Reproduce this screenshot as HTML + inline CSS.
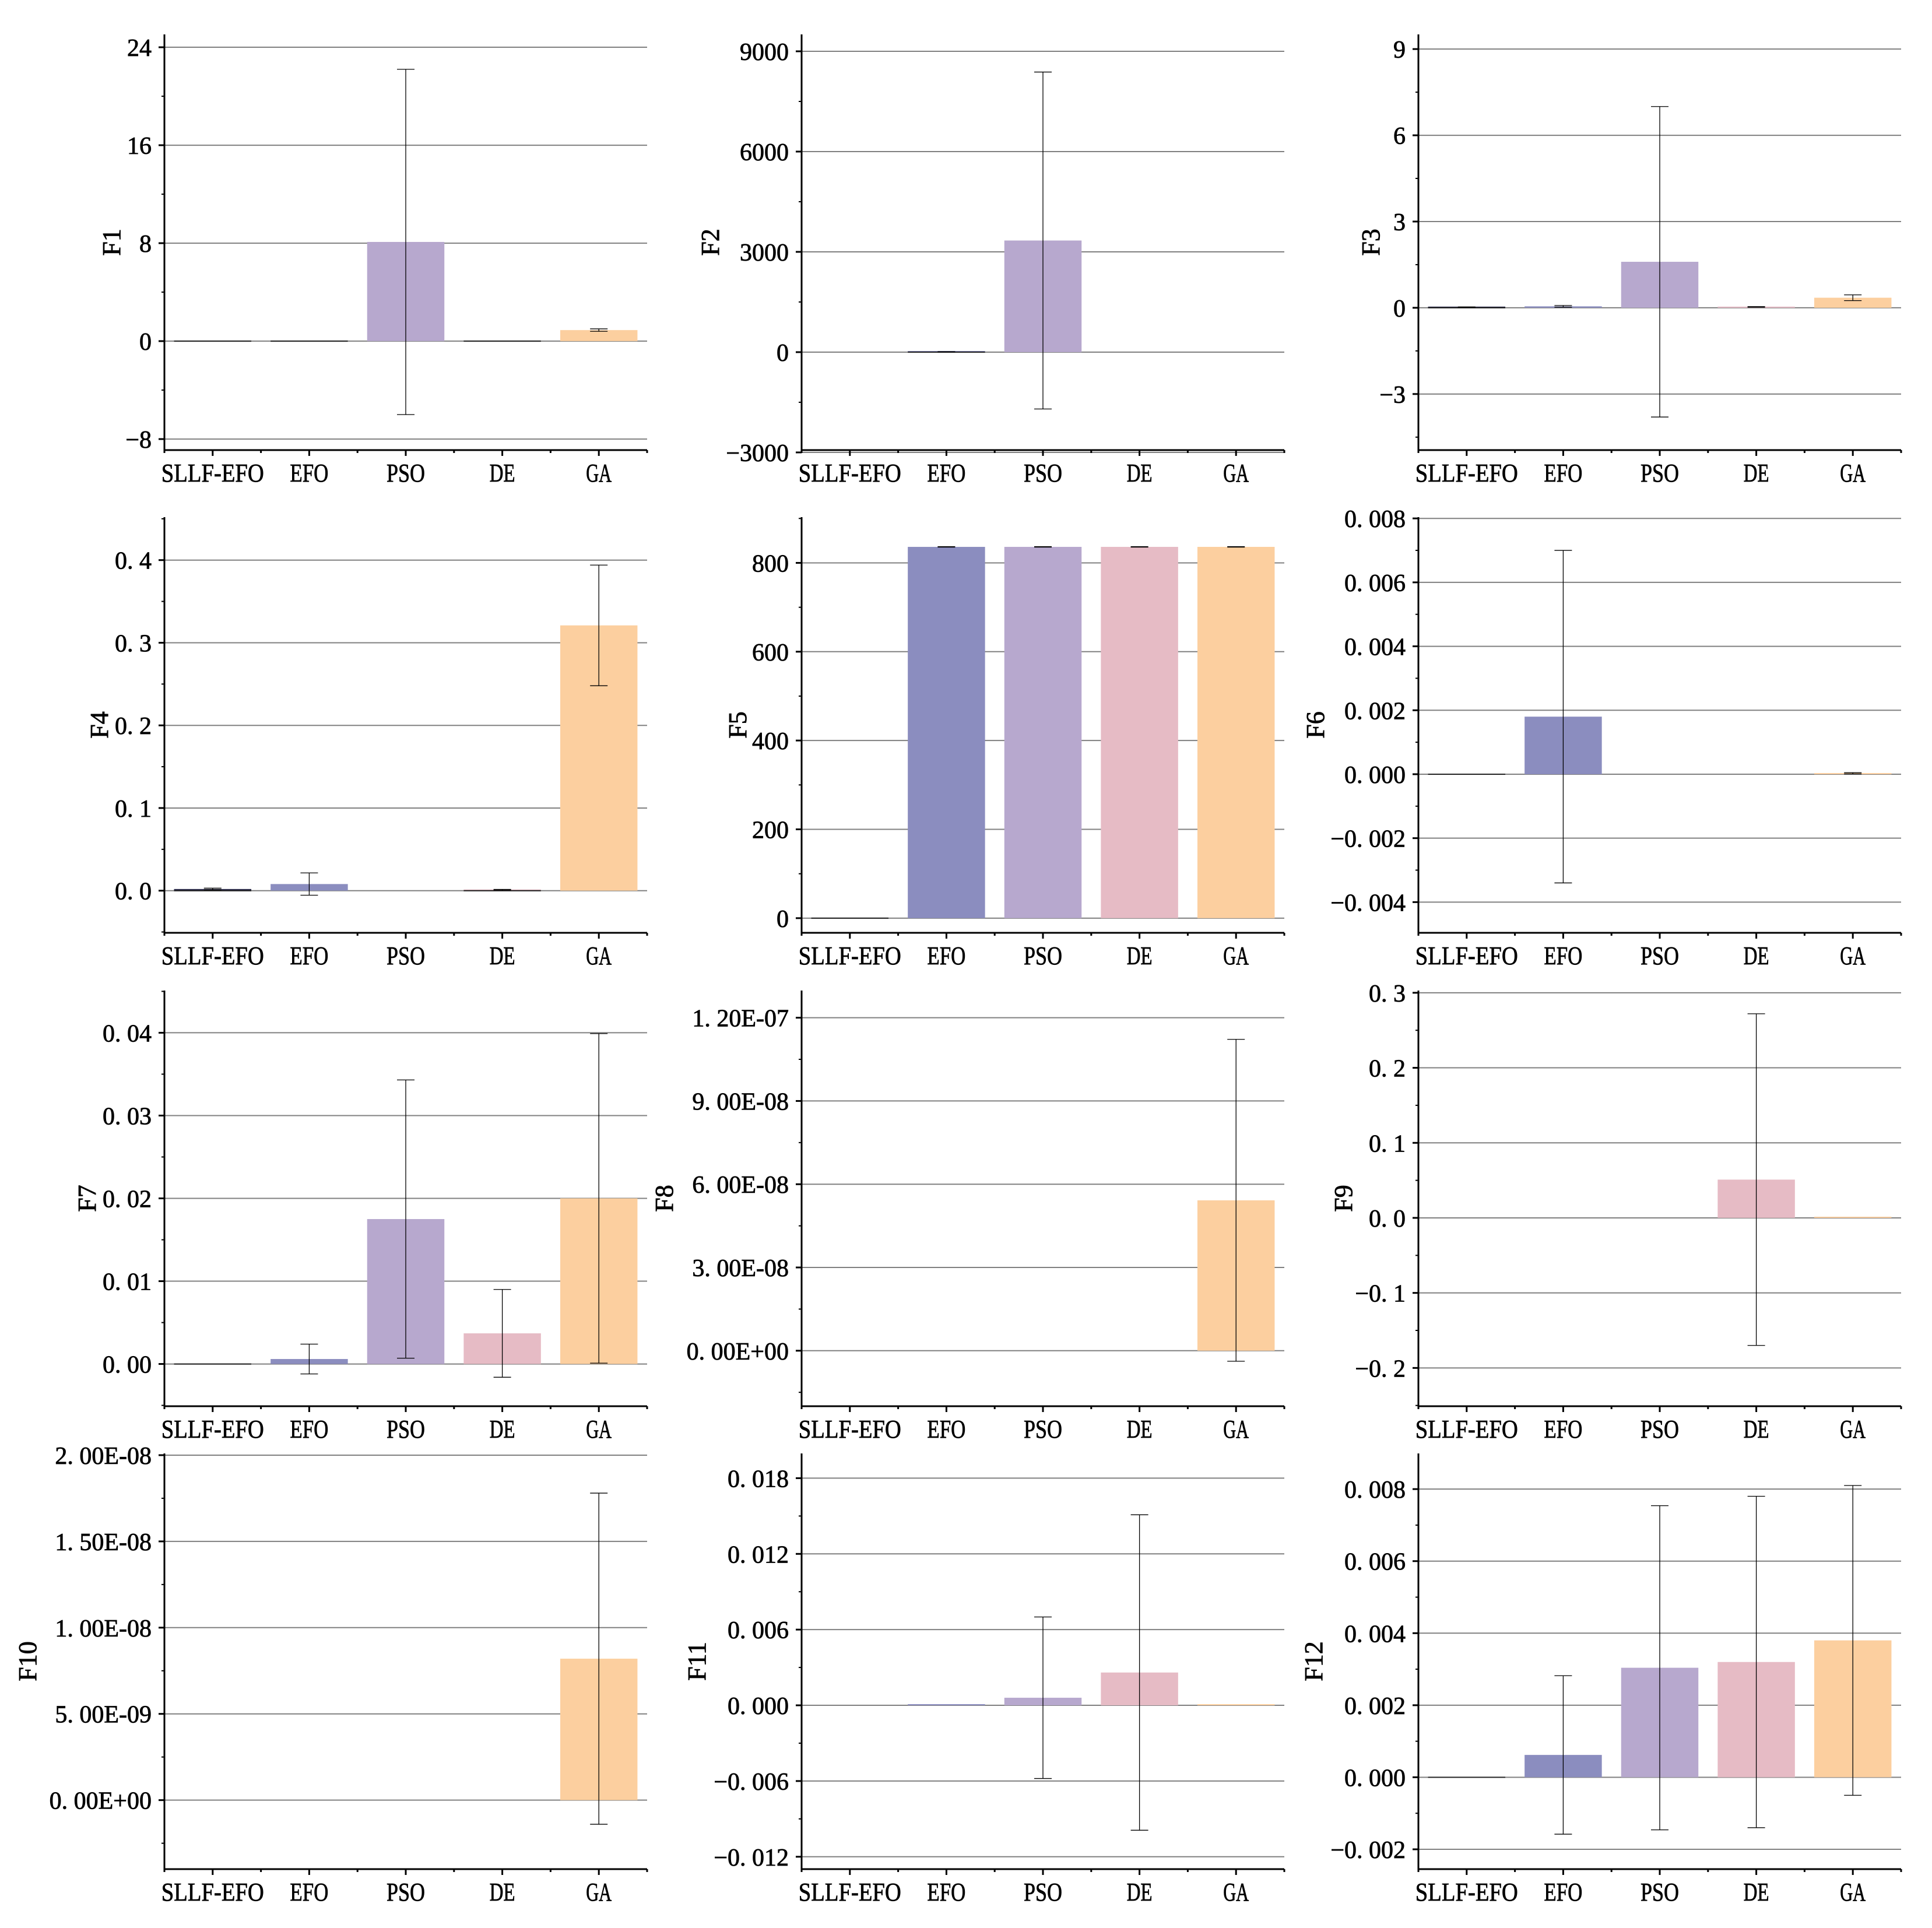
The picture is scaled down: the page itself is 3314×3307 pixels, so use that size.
<!DOCTYPE html>
<html><head><meta charset="utf-8">
<style>
html,body{margin:0;padding:0;background:#fff;}
svg text{font-family:"Liberation Serif","Noto Serif CJK SC",serif;fill:#000;}
</style></head>
<body>
<svg id="fig" xmlns="http://www.w3.org/2000/svg" width="3314" height="3302" viewBox="0 0 3314 3302"></svg>
<script>
// ---- data ----
const categories = ["SLLF-EFO","EFO","PSO","DE","GA"];
const colors = ["#2b2b4b","#8b8dbf","#b7a8ce","#e6bbc5","#fccf9f"];
const titles = ["F1","F2","F3","F4","F5","F6","F7","F8","F9","F10","F11","F12"];

const means1 = [0, 0, 8.1, 0, 0.9];          const errs1 = [0, 0, 14.1, 0, 0.1];
const means2 = [0, 10, 3340, 0, 0];          const errs2 = [0, 5, 5040, 0, 0];
const means3 = [0.02, 0.05, 1.6, 0.03, 0.35];const errs3 = [0.01, 0.03, 5.4, 0.01, 0.1];
const means4 = [0.002, 0.008, 0, 0.001, 0.321]; const errs4 = [0.001, 0.0135, 0, 0.0005, 0.073];
const means5 = [0, 836, 836, 836, 836];      const errs5 = [0, 0.5, 0.5, 0.5, 0.5];
const means6 = [0, 0.0018, 0, 0, 0.00003];   const errs6 = [0, 0.0052, 0, 0, 0.00002];
const means7 = [0, 0.0006, 0.0175, 0.0037, 0.0200]; const errs7 = [0, 0.0018, 0.0168, 0.0053, 0.0199];
const means8 = [0, 0, 0, 0, 5.42e-8];        const errs8 = [0, 0, 0, 0, 5.8e-8];
const means9 = [0, 0, 0, 0.051, 0.001];      const errs9 = [0, 0, 0, 0.221, 0];
const means10 = [0, 0, 0, 0, 8.2e-9];        const errs10 = [0, 0, 0, 0, 9.6e-9];
const means11 = [0, 0.00005, 0.0006, 0.0026, 0.00005]; const errs11 = [0, 0, 0.0064, 0.0125, 0];
const means12 = [0, 0.00062, 0.00304, 0.0032, 0.0038]; const errs12 = [0, 0.0022, 0.0045, 0.0046, 0.0043];
// categories whose near-zero bar shows a dark edge line at zero
const zeroEdges = [[0,1,3],[1],[0],[0,3],[0],[0],[0],[],[],[],[],[0]];

const yLimits = [[-8.9,25.05],[-2930,9506],[-4.95,9.51],[-0.051,0.452],[-33,903],[-0.00496,0.00804],
  [-0.0051,0.0451],[-2.0e-8,1.298e-7],[-0.251,0.303],[-4.0e-9,2.01e-8],[-0.01298,0.01996],[-0.00255,0.00899]];
const tickValues = [[-8,0,8,16,24],[-3000,0,3000,6000,9000],[-3,0,3,6,9],[0,0.1,0.2,0.3,0.4],[0,200,400,600,800],
  [-0.004,-0.002,0,0.002,0.004,0.006,0.008],[0,0.01,0.02,0.03,0.04],[0,3e-8,6e-8,9e-8,1.2e-7],
  [-0.2,-0.1,0,0.1,0.2,0.3],[0,5e-9,1e-8,1.5e-8,2e-8],[-0.012,-0.006,0,0.006,0.012,0.018],[-0.002,0,0.002,0.004,0.006,0.008]];
const tickLabels = [["−8","0","8","16","24"],["−3000","0","3000","6000","9000"],["−3","0","3","6","9"],
  ["0. 0","0. 1","0. 2","0. 3","0. 4"],["0","200","400","600","800"],
  ["−0. 004","−0. 002","0. 000","0. 002","0. 004","0. 006","0. 008"],["0. 00","0. 01","0. 02","0. 03","0. 04"],
  ["0. 00E+00","3. 00E-08","6. 00E-08","9. 00E-08","1. 20E-07"],["−0. 2","−0. 1","0. 0","0. 1","0. 2","0. 3"],
  ["0. 00E+00","5. 00E-09","1. 00E-08","1. 50E-08","2. 00E-08"],["−0. 012","−0. 006","0. 000","0. 006","0. 012","0. 018"],
  ["−0. 002","0. 000","0. 002","0. 004","0. 006","0. 008"]];
const allMeans = [means1,means2,means3,means4,means5,means6,means7,means8,means9,means10,means11,means12];
const allErrs = [errs1,errs2,errs3,errs4,errs5,errs6,errs7,errs8,errs9,errs10,errs11,errs12];

// ---- layout ----
const colLeft = [282,1375,2433], rowTop = [59,887,1699,2493];
const PW = 828, PH = 713;
const titleX = [191,1218,2351,170,1265,2256,149,1139,2304,47,1195,2253];
const NS = "http://www.w3.org/2000/svg";
const svg = document.getElementById('fig');
function mk(tag, attrs, parent){ const e=document.createElementNS(NS,tag); for(const k in attrs) e.setAttribute(k,attrs[k]); (parent||svg).appendChild(e); return e; }

titles.forEach((t, p) => {
  const L = colLeft[p%3], T = rowTop[Math.floor(p/3)], B = T+PH, R = L+PW;
  const [y0,y1] = yLimits[p];
  const yS = v => B - (v - y0)/(y1 - y0)*PH;
  const slot = PW/categories.length;
  const xS = i => L + slot*(i+0.5);
  const g = mk('g', {});
  
  
  const ticks = tickValues[p];
  const step = ticks[1]-ticks[0];
  ticks.forEach((v, k) => {
    const y = yS(v);
    const gl = mk('line', {x1:L, x2:R, y1:y, y2:y, stroke:'#808080', 'stroke-width':2}, g);
    
    
    mk('line', {x1:L-10, x2:L, y1:y, y2:y, stroke:'#000', 'stroke-width':3}, g);
    const tx = mk('text', {x:L-22, y:y+15, 'font-size':42, 'text-anchor':'end', stroke:'#000', 'stroke-width':0.8}, g);
    tx.textContent = tickLabels[p][k];
    
    
  });
  for (let v = ticks[0] - step*3; v <= y1; v += step/2) {
    if (v < y0) continue;
    mk('line', {x1:L-5, x2:L, y1:yS(v), y2:yS(v), stroke:'#000', 'stroke-width':2}, g);
  }
  const means = allMeans[p], errs = allErrs[p];
  means.forEach((m, i) => {
    const bw = slot*0.8, x = xS(i)-bw/2;
    let ya = yS(Math.max(m,0)), yb = yS(Math.min(m,0));
    if (m !== 0 && yb-ya < 2) { ya = yS(0)-2; yb = yS(0); }
    if (m !== 0) {
      const r = mk('rect', {x:x, y:ya, width:bw, height:yb-ya, fill:colors[i]}, g);
      
      
    }
    if (zeroEdges[p].includes(i)) {
      const z = mk('line', {x1:x, x2:x+bw, y1:yS(0), y2:yS(0), stroke:'#222', 'stroke-width':2}, g);
      
      
    }
    const e = errs[i];
    if (e > 0) {
      const cx = xS(i), yt = yS(m+e), ybm = yS(m-e);
      const eg = mk('g', {stroke:'#000', 'stroke-width':1.3}, g);
      
      
      mk('line', {x1:cx, x2:cx, y1:yt, y2:ybm}, eg);
      mk('line', {x1:cx-15, x2:cx+15, y1:yt, y2:yt}, eg);
      mk('line', {x1:cx-15, x2:cx+15, y1:ybm, y2:ybm}, eg);
    }
  });
  mk('line', {x1:L, x2:L, y1:T, y2:B+1.5, stroke:'#000', 'stroke-width':3}, g);
  mk('line', {x1:L-1.5, x2:R, y1:B, y2:B, stroke:'#000', 'stroke-width':3}, g);
  for (let k = 0; k <= categories.length*2; k++) {
    const x = L + slot*k/2;
    mk('line', {x1:x, x2:x, y1:B, y2:B+(k%2?10:5), stroke:'#000', 'stroke-width':3}, g);
  }
  categories.forEach((c, i) => {
    const tx = mk('text', {x:xS(i), y:B+54, 'font-size':44, 'text-anchor':'middle', stroke:'#000', 'stroke-width':0.8,
      textLength: c.length*22, lengthAdjust:'spacingAndGlyphs'}, g);
    tx.textContent = c;
    
    
  });
  const cy = (T+B)/2;
  const tt = mk('text', {x:titleX[p], y:cy, 'font-size':44, 'text-anchor':'middle', stroke:'#000', 'stroke-width':0.8, transform:`rotate(-90 ${titleX[p]} ${cy})`, dy:15}, g);
  tt.textContent = t;
  
  
});
</script>
</body></html>
